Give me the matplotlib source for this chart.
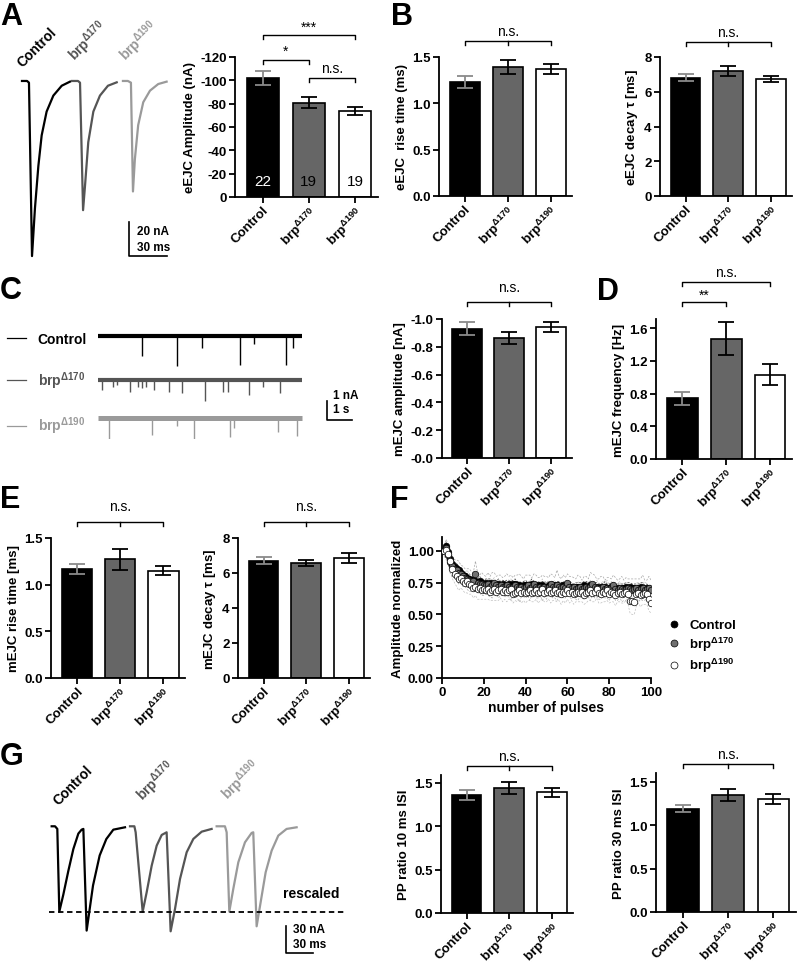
import numpy as np
import matplotlib
matplotlib.use('Agg')
import matplotlib.pyplot as plt
from matplotlib.transforms import blended_transform_factory
from matplotlib.lines import Line2D

plt.rcParams['font.family'] = ['Liberation Sans', 'DejaVu Sans']
plt.rcParams['font.weight'] = 'bold'
plt.rcParams['axes.labelweight'] = 'bold'
plt.rcParams['axes.unicode_minus'] = False
plt.rcParams['mathtext.fontset'] = 'custom'
plt.rcParams['mathtext.rm'] = 'Liberation Sans'
plt.rcParams['mathtext.it'] = 'Liberation Sans:italic'
plt.rcParams['mathtext.bf'] = 'Liberation Sans:bold'

W, H = 798, 970

# ---------------- data ----------------
groups = ['Control', 'brp$^{\\mathit{\\Delta170}}$', 'brp$^{\\mathit{\\Delta190}}$']
legend_names = ['Control', 'brp$^{\\mathbf{\\Delta170}}$', 'brp$^{\\mathbf{\\Delta190}}$']
bar_colors = ['black', '#666666', 'white']
err_colors = ['#8a8a8a', 'black', 'black']
trace_colors = ['black', '#555555', '#9a9a9a']

eejc_amp = [-102, -81, -73.5]
eejc_amp_sem = [6, 5, 3.5]
eejc_n = [22, 19, 19]
eejc_rise = [1.23, 1.39, 1.37]
eejc_rise_sem = [0.06, 0.075, 0.055]
eejc_decay = [6.8, 7.2, 6.75]
eejc_decay_sem = [0.2, 0.3, 0.17]
mejc_amp = [-0.93, -0.865, -0.945]
mejc_amp_sem = [0.045, 0.045, 0.035]
mejc_freq = [0.74, 1.47, 1.03]
mejc_freq_sem = [0.075, 0.2, 0.13]
mejc_rise = [1.17, 1.27, 1.15]
mejc_rise_sem = [0.055, 0.11, 0.045]
mejc_decay = [6.7, 6.55, 6.85]
mejc_decay_sem = [0.2, 0.17, 0.27]
pp10 = [1.36, 1.44, 1.39]
pp10_sem = [0.06, 0.07, 0.055]
pp30 = [1.19, 1.35, 1.30]
pp30_sem = [0.04, 0.07, 0.055]

# example eEJC traces (time ms, current nA)
ctrl_t = [0, 4, 5.5, 7.9, 10.2, 12.9, 15.5, 19.4, 24.7, 31.3, 37.8]
ctrl_i = [0, 0, -1, -103, -75, -50, -32, -18, -8.6, -2.8, -0.4]
b170_t = [0, 4.7, 6.3, 8.7, 10.2, 12.8, 16.8, 22, 28.3, 35.2]
b170_i = [0, 0, -1, -76, -62, -36, -18, -8.6, -2.8, -0.8]
b190_t = [0, 3.9, 6.3, 7.9, 9.4, 12, 16, 21.3, 27.8, 34.4]
b190_i = [0, 0, -1, -65, -46, -26, -12.5, -5.7, -1.8, -0.4]

# minis: event times (s) and amplitudes (nA)
mini_ctrl_t = [1.74, 3.14, 4.14, 5.67, 6.24, 7.5, 7.8]
mini_ctrl_a = [1.02, 1.54, 0.63, 1.51, 0.4, 1.49, 0.63]
mini_170_t = [0.16, 0.6, 0.74, 1.27, 1.6, 1.76, 1.91, 2.23, 2.83, 3.36, 4.27, 4.97, 5.2, 6.04, 6.6, 7.27]
mini_170_a = [0.51, 0.38, 0.26, 0.61, 0.38, 0.44, 0.38, 0.51, 0.61, 0.68, 1.09, 0.61, 0.61, 0.79, 0.38, 0.68]
mini_190_t = [0.43, 2.14, 3.14, 3.83, 5.27, 5.43, 7.2, 7.94]
mini_190_a = [1.53, 0.91, 0.42, 1.61, 1.0, 0.53, 0.74, 0.95]
mini_duration = 8.14

# paired-pulse traces (ms, rescaled nA)
pp_ctrl_t = [0, 3.7, 6.2, 8.4, 12.8, 18.3, 23.8, 29.3, 32.9, 34.8, 38.4, 45.4, 52.7, 60, 67.7, 80.5]
pp_ctrl_i = [0, 0, -2.9, -93.7, -75, -49, -25, -8, -3.7, -2.9, -114.5, -65, -32, -14, -3.7, -1.1]
pp_170_t = [0, 4.8, 6.2, 13.9, 18.3, 23.8, 29.3, 34.8, 40.2, 44.6, 49.4, 54.9, 62.2, 69.5, 78.7, 89.6]
pp_170_i = [0, 0, -6.6, -93.7, -72.4, -43.2, -21.2, -9.5, -6.6, -115.3, -90.7, -57.8, -28.5, -13.9, -5.9, -2.9]
pp_190_t = [0, 9.1, 11, 13.9, 18.3, 23.8, 31.1, 38.4, 40.2, 43.9, 48.3, 53.8, 60.4, 67.7, 76.8, 87.8]
pp_190_i = [0, 0, -6.6, -93.7, -68.6, -39.5, -17.6, -7.3, -6.6, -109.8, -83.4, -50.5, -26.7, -10.2, -2.9, -1.1]

# train of 100 pulses, normalized amplitude
train_ctrl = [1.00, 1.04, 0.99, 0.94, 0.90, 0.87, 0.86, 0.85, 0.83, 0.81,
              0.80, 0.79, 0.78, 0.77, 0.77, 0.76, 0.75, 0.76, 0.75, 0.74,
              0.75, 0.74, 0.75, 0.74, 0.74, 0.73, 0.74, 0.73, 0.74, 0.73,
              0.73, 0.74, 0.73, 0.74, 0.74, 0.73, 0.73, 0.72, 0.73, 0.73,
              0.72, 0.73, 0.74, 0.73, 0.72, 0.73, 0.72, 0.73, 0.72, 0.72,
              0.73, 0.72, 0.73, 0.72, 0.73, 0.72, 0.72, 0.73, 0.72, 0.73,
              0.72, 0.72, 0.71, 0.72, 0.72, 0.71, 0.72, 0.73, 0.72, 0.72,
              0.73, 0.72, 0.71, 0.72, 0.71, 0.72, 0.71, 0.72, 0.71, 0.71,
              0.72, 0.71, 0.70, 0.71, 0.70, 0.71, 0.71, 0.72, 0.71, 0.72,
              0.71, 0.71, 0.70, 0.71, 0.72, 0.71, 0.70, 0.71, 0.70, 0.70]
train_170 = [1.00, 1.02, 0.97, 0.91, 0.88, 0.86, 0.85, 0.83, 0.82, 0.80,
             0.79, 0.78, 0.77, 0.76, 0.76, 0.82, 0.75, 0.74, 0.74, 0.73,
             0.73, 0.74, 0.72, 0.73, 0.75, 0.73, 0.72, 0.73, 0.72, 0.72,
             0.73, 0.72, 0.71, 0.72, 0.73, 0.72, 0.71, 0.72, 0.71, 0.72,
             0.73, 0.71, 0.72, 0.74, 0.72, 0.71, 0.72, 0.71, 0.72, 0.71,
             0.72, 0.74, 0.72, 0.71, 0.73, 0.72, 0.71, 0.72, 0.71, 0.75,
             0.72, 0.71, 0.72, 0.70, 0.71, 0.72, 0.70, 0.71, 0.72, 0.71,
             0.72, 0.74, 0.72, 0.71, 0.70, 0.71, 0.72, 0.70, 0.71, 0.70,
             0.71, 0.73, 0.70, 0.69, 0.71, 0.70, 0.69, 0.70, 0.71, 0.70,
             0.69, 0.70, 0.71, 0.69, 0.70, 0.71, 0.69, 0.70, 0.71, 0.69]
train_190 = [1.00, 1.01, 0.98, 0.92, 0.86, 0.82, 0.80, 0.78, 0.79, 0.76,
             0.75, 0.76, 0.74, 0.73, 0.71, 0.72, 0.70, 0.71, 0.69, 0.70,
             0.69, 0.70, 0.68, 0.69, 0.70, 0.68, 0.69, 0.70, 0.68, 0.69,
             0.68, 0.69, 0.70, 0.66, 0.67, 0.68, 0.69, 0.67, 0.68, 0.67,
             0.68, 0.69, 0.67, 0.68, 0.69, 0.67, 0.68, 0.70, 0.67, 0.68,
             0.69, 0.67, 0.68, 0.69, 0.67, 0.68, 0.66, 0.68, 0.67, 0.69,
             0.67, 0.68, 0.66, 0.67, 0.68, 0.67, 0.68, 0.65, 0.67, 0.68,
             0.69, 0.67, 0.68, 0.70, 0.67, 0.66, 0.68, 0.67, 0.69, 0.66,
             0.68, 0.67, 0.65, 0.67, 0.68, 0.66, 0.67, 0.68, 0.66, 0.61,
             0.61, 0.60, 0.66, 0.67, 0.65, 0.66, 0.67, 0.66, 0.62, 0.59]
sem_ctrl = [0.02, 0.03, 0.03, 0.04, 0.03, 0.03, 0.04, 0.03, 0.03, 0.03,
            0.03, 0.03, 0.04, 0.03, 0.03, 0.03, 0.03, 0.04, 0.03, 0.03,
            0.03, 0.04, 0.03, 0.03, 0.03, 0.03, 0.04, 0.03, 0.03, 0.03,
            0.04, 0.03, 0.03, 0.03, 0.04, 0.03, 0.03, 0.03, 0.03, 0.04,
            0.03, 0.03, 0.04, 0.03, 0.03, 0.03, 0.03, 0.03, 0.04, 0.03,
            0.03, 0.04, 0.03, 0.03, 0.03, 0.04, 0.03, 0.03, 0.03, 0.03,
            0.04, 0.03, 0.03, 0.03, 0.03, 0.04, 0.03, 0.03, 0.04, 0.03,
            0.03, 0.03, 0.04, 0.03, 0.03, 0.03, 0.03, 0.04, 0.03, 0.03,
            0.03, 0.04, 0.03, 0.03, 0.04, 0.03, 0.03, 0.03, 0.04, 0.03,
            0.03, 0.03, 0.04, 0.03, 0.03, 0.04, 0.03, 0.03, 0.03, 0.03]
sem_170 = [0.04, 0.07, 0.08, 0.09, 0.08, 0.07, 0.08, 0.09, 0.07, 0.08,
           0.07, 0.08, 0.09, 0.08, 0.07, 0.10, 0.08, 0.07, 0.09, 0.08,
           0.07, 0.09, 0.08, 0.10, 0.08, 0.07, 0.09, 0.08, 0.07, 0.08,
           0.09, 0.08, 0.10, 0.07, 0.08, 0.09, 0.11, 0.08, 0.07, 0.09,
           0.08, 0.10, 0.07, 0.08, 0.09, 0.08, 0.07, 0.10, 0.08, 0.09,
           0.07, 0.08, 0.09, 0.08, 0.12, 0.08, 0.07, 0.09, 0.08, 0.07,
           0.08, 0.09, 0.07, 0.08, 0.10, 0.08, 0.07, 0.09, 0.08, 0.07,
           0.11, 0.08, 0.09, 0.07, 0.08, 0.09, 0.08, 0.07, 0.08, 0.09,
           0.07, 0.08, 0.09, 0.08, 0.07, 0.10, 0.08, 0.09, 0.07, 0.08,
           0.09, 0.08, 0.07, 0.09, 0.08, 0.10, 0.08, 0.07, 0.09, 0.08]
sem_190 = [0.04, 0.08, 0.07, 0.09, 0.08, 0.07, 0.08, 0.09, 0.08, 0.07,
           0.08, 0.09, 0.08, 0.07, 0.08, 0.07, 0.08, 0.09, 0.07, 0.08,
           0.07, 0.08, 0.07, 0.08, 0.09, 0.07, 0.08, 0.07, 0.08, 0.07,
           0.08, 0.07, 0.08, 0.07, 0.06, 0.08, 0.07, 0.08, 0.07, 0.08,
           0.07, 0.08, 0.07, 0.08, 0.07, 0.08, 0.07, 0.08, 0.07, 0.08,
           0.07, 0.08, 0.07, 0.08, 0.07, 0.07, 0.08, 0.07, 0.08, 0.07,
           0.08, 0.07, 0.08, 0.07, 0.08, 0.07, 0.08, 0.07, 0.08, 0.07,
           0.08, 0.07, 0.08, 0.07, 0.08, 0.07, 0.08, 0.07, 0.08, 0.07,
           0.08, 0.07, 0.08, 0.07, 0.08, 0.07, 0.08, 0.07, 0.08, 0.10,
           0.11, 0.10, 0.09, 0.08, 0.09, 0.08, 0.09, 0.08, 0.09, 0.08]

# ---------------- helpers ----------------
fig = plt.figure(figsize=(W / 100, H / 100), dpi=100)


def fx(x):
    return x / W


def fy(y):
    return 1 - y / H


def px_axes(x0, y0, x1, y1):
    return fig.add_axes([fx(x0), fy(y1), (x1 - x0) / W, (y1 - y0) / H])


def style(ax):
    for s in ['top', 'right']:
        ax.spines[s].set_visible(False)
    for s in ['left', 'bottom']:
        ax.spines[s].set_linewidth(1.3)
    ax.tick_params(direction='out', length=4, width=1.3, labelsize=9.5, pad=2)


def bar_panel(rect, means, sems, ylim, yticks, fmt, ylabel):
    ax = px_axes(*rect)
    x = np.arange(len(means))
    ax.bar(x, means, width=0.7, color=bar_colors, edgecolor='black', linewidth=1.2, zorder=2)
    for i in range(len(means)):
        ax.errorbar(x[i], means[i], yerr=sems[i], color=err_colors[i], capsize=5.5,
                    elinewidth=1.3, capthick=1.3, zorder=3)
    ax.set_xlim(-0.6, 2.5)
    ax.set_ylim(*ylim)
    ax.set_yticks(yticks)
    ax.set_yticklabels([fmt(v) for v in yticks])
    ax.set_xticks(x)
    ax.set_xticklabels(groups, rotation=45, ha='right', va='top', rotation_mode='anchor', fontsize=10)
    ax.set_ylabel(ylabel, fontsize=9.5, labelpad=3)
    style(ax)
    ax.tick_params(axis='x', pad=1)
    return ax


def bracket(ax, x1, x2, y, text, ty, mid=None, drop=4):
    tr = blended_transform_factory(ax.transData, fig.transFigure)
    ax.plot([x1, x1, x2, x2], [fy(y + drop), fy(y), fy(y), fy(y + drop)], color='black', lw=1,
            transform=tr, clip_on=False)
    if mid is not None:
        ax.plot([mid, mid], [fy(y), fy(y + drop)], color='black', lw=1, transform=tr, clip_on=False)
    ax.text((x1 + x2) / 2, fy(ty), text, transform=tr, ha='center', va='center',
            fontsize=10, fontweight='normal')


def panel_label(x, y, s):
    fig.text(fx(x), fy(y), s, fontsize=22, fontweight='bold', ha='left', va='center')


def rot_label(x, y, s, c):
    fig.text(fx(x), fy(y), s, color=c, rotation=45, ha='left', va='bottom',
             rotation_mode='anchor', fontsize=10, fontweight='bold')


# ---------------- A ----------------
axA = px_axes(15, 75, 175, 262)
for t, i, off, c in [(ctrl_t, ctrl_i, 0, trace_colors[0]), (b170_t, b170_i, 39.4, trace_colors[1]),
                     (b190_t, b190_i, 79.5, trace_colors[2])]:
    axA.plot(np.array(t) + off, i, color=c, lw=1.6)
axA.plot([84.3, 84.3, 114.3], [-83, -103, -103], color='black', lw=1.2)
axA.text(90.5, -88, '20 nA', fontsize=8.5, va='center')
axA.text(90.5, -97.5, '30 ms', fontsize=8.5, va='center')
axA.set_xlim(-5.5, 120.5)
axA.set_ylim(-105.9, 4.1)
axA.axis('off')
rot_label(24, 70, 'Control', trace_colors[0])
rot_label(79, 66, groups[1], trace_colors[1])
rot_label(130, 66, groups[2], trace_colors[2])

ax = bar_panel((235, 58, 378, 198), eejc_amp, eejc_amp_sem, (0, -120), [0, -20, -40, -60, -80, -100, -120],
               lambda v: f'{v:.0f}', 'eEJC Amplitude (nA)')
for i, n in enumerate(eejc_n):
    ax.text(i, -14, str(n), color='white' if i == 0 else 'black', ha='center', va='center',
            fontsize=11, fontweight='normal', zorder=4)
bracket(ax, 0, 1, 61, '*', 52)
bracket(ax, 1, 2, 79, 'n.s.', 69)
bracket(ax, 0, 2, 36, '***', 28)
panel_label(0, 17, 'A')

# ---------------- B ----------------
ax = bar_panel((439, 58, 572, 197), eejc_rise, eejc_rise_sem, (0, 1.5), [0, 0.5, 1.0, 1.5],
               lambda v: f'{v:.1f}', 'eEJC  rise time (ms)')
bracket(ax, 0, 2, 42, 'n.s.', 32, mid=1)
ax = bar_panel((660, 58, 792, 197), eejc_decay, eejc_decay_sem, (0, 8), [0, 2, 4, 6, 8],
               lambda v: f'{v:.0f}', 'eEJC decay $\\mathregular{\\tau}$ [ms]')
bracket(ax, 0, 2, 43, 'n.s.', 33, mid=1)
panel_label(391, 17, 'B')

# ---------------- C ----------------
axC = px_axes(0, 320, 360, 440)
offsets = [0, -2.3, -4.31]
widths = [3.0, 3.0, 3.6]
for k, (ts, amps) in enumerate([(mini_ctrl_t, mini_ctrl_a), (mini_170_t, mini_170_a), (mini_190_t, mini_190_a)]):
    base = offsets[k]
    axC.hlines(base, 0, mini_duration, color=trace_colors[k], lw=widths[k])
    axC.vlines(ts, base, base - np.array(amps), color=trace_colors[k], lw=1.0)
axC.plot([9.16, 9.16, 10.16], [-3.41, -4.41, -4.41], color='black', lw=1.2)
axC.text(9.4, -3.1, '1 nA', fontsize=8.5, va='center')
axC.text(9.4, -3.85, '1 s', fontsize=8.5, va='center')
axC.set_xlim(-3.93, 10.47)
axC.set_ylim(-5.41, 0.91)
axC.axis('off')
handles = [Line2D([], [], color=c, lw=0.9) for c in trace_colors]
axC.legend(handles, ['Control', 'brp$^{\\Delta170}$', 'brp$^{\\Delta190}$'], loc='upper left',
           bbox_to_anchor=(fx(7), fy(333)), bbox_transform=fig.transFigure, frameon=False,
           handlelength=1.4, handletextpad=0.8, labelspacing=1.7, fontsize=10,
           labelcolor='linecolor', borderpad=0, borderaxespad=0)
panel_label(0, 291, 'C')

ax = bar_panel((442, 320, 572, 459), mejc_amp, mejc_amp_sem, (0, -1.0), [0, -0.2, -0.4, -0.6, -0.8, -1.0],
               lambda v: f'-{abs(v):.1f}', 'mEJC amplitude [nA]')
bracket(ax, 0, 2, 303, 'n.s.', 288, mid=1)

# ---------------- D ----------------
ax = bar_panel((656, 320, 792, 460), mejc_freq, mejc_freq_sem, (0, 1.71), [0, 0.4, 0.8, 1.2, 1.6],
               lambda v: f'{v:.1f}', 'mEJC frequency [Hz]')
bracket(ax, 0, 1, 303, '**', 296)
bracket(ax, 0, 2, 283, 'n.s.', 273)
panel_label(597, 292, 'D')

# ---------------- E ----------------
ax = bar_panel((51, 539, 185, 679), mejc_rise, mejc_rise_sem, (0, 1.5), [0, 0.5, 1.0, 1.5],
               lambda v: f'{v:.1f}', 'mEJC rise time [ms]')
bracket(ax, 0, 2, 523, 'n.s.', 507, mid=1)
ax = bar_panel((238, 539, 370, 679), mejc_decay, mejc_decay_sem, (0, 8), [0, 2, 4, 6, 8],
               lambda v: f'{v:.0f}', 'mEJC decay $\\mathregular{\\tau}$ [ms]')
bracket(ax, 0, 2, 523, 'n.s.', 507, mid=1)
panel_label(0, 500, 'E')

# ---------------- F ----------------
axF = px_axes(442, 538, 651, 679)
pulses = np.arange(1, 101)
for mean, sem, c in [(train_ctrl, sem_ctrl, '#333333'), (train_170, sem_170, '#a8a8a8'), (train_190, sem_190, '#c0c0c0')]:
    m = np.array(mean)
    s = np.array(sem)
    axF.plot(pulses, m + s, color=c, lw=0.5, ls=(0, (3, 2)))
    axF.plot(pulses, m - s, color=c, lw=0.5, ls=(0, (3, 2)))
face = ['black', '#707070', 'white']
for k, series in enumerate([train_ctrl, train_170, train_190]):
    axF.scatter(pulses, series, s=22, facecolor=face[k], edgecolor='black', linewidth=0.5, zorder=3 + k)
axF.set_xlim(0, 100)
axF.set_ylim(0, 1.11)
axF.set_xticks([0, 20, 40, 60, 80, 100])
axF.set_yticks([0, 0.25, 0.5, 0.75, 1.0])
axF.set_yticklabels([f'{v:.2f}' for v in [0, 0.25, 0.5, 0.75, 1.0]])
axF.set_xlabel('number of pulses', fontsize=10, labelpad=1)
axF.set_ylabel('Amplitude normalized', fontsize=9.5, labelpad=3)
style(axF)
fh = [Line2D([], [], marker='o', ls='', mfc=face[k], mec='black', mew=0.5, ms=5) for k in range(3)]
axF.legend(fh, legend_names, loc='upper left', bbox_to_anchor=(fx(667), fy(620)),
           bbox_transform=fig.transFigure, frameon=False, handlelength=1, handletextpad=0.7,
           labelspacing=0.25, fontsize=9.5, borderpad=0, borderaxespad=0)
panel_label(390, 500, 'F')

# ---------------- G ----------------
axG = px_axes(40, 820, 345, 960)
for t, i, off, c in [(pp_ctrl_t, pp_ctrl_i, 0, trace_colors[0]), (pp_170_t, pp_170_i, 86, trace_colors[1]),
                     (pp_190_t, pp_190_i, 181.1, trace_colors[2])]:
    axG.plot(np.array(t) + off, i, color=c, lw=1.6)
axG.axhline(-93.7, xmin=0.03, xmax=0.998, color='black', lw=1.3, ls=(0, (3, 2)))
axG.text(254, -73, 'rescaled', fontsize=10, va='center')
axG.plot([257.2, 257.2, 287.2], [-109, -139, -139], color='black', lw=1.2)
axG.text(265, -113, '30 nA', fontsize=8.5, va='center')
axG.text(265, -129, '30 ms', fontsize=8.5, va='center')
axG.set_xlim(-12.8, 322)
axG.set_ylim(-145.7, 8)
axG.axis('off')
rot_label(60, 808, 'Control', trace_colors[0])
rot_label(147, 806, groups[1], trace_colors[1])
rot_label(232, 805, groups[2], trace_colors[2])
panel_label(0, 757, 'G')

ax = bar_panel((441, 776, 573, 914), pp10, pp10_sem, (0, 1.59), [0, 0.5, 1.0, 1.5],
               lambda v: f'{v:.1f}', 'PP ratio 10 ms ISI')
bracket(ax, 0, 2, 767, 'n.s.', 757, mid=1)
ax = bar_panel((656, 774, 796, 913), pp30, pp30_sem, (0, 1.6), [0, 0.5, 1.0, 1.5],
               lambda v: f'{v:.1f}', 'PP ratio 30 ms ISI')
bracket(ax, 0, 2, 765, 'n.s.', 755, mid=1)

fig.savefig('out.png', dpi=100)
